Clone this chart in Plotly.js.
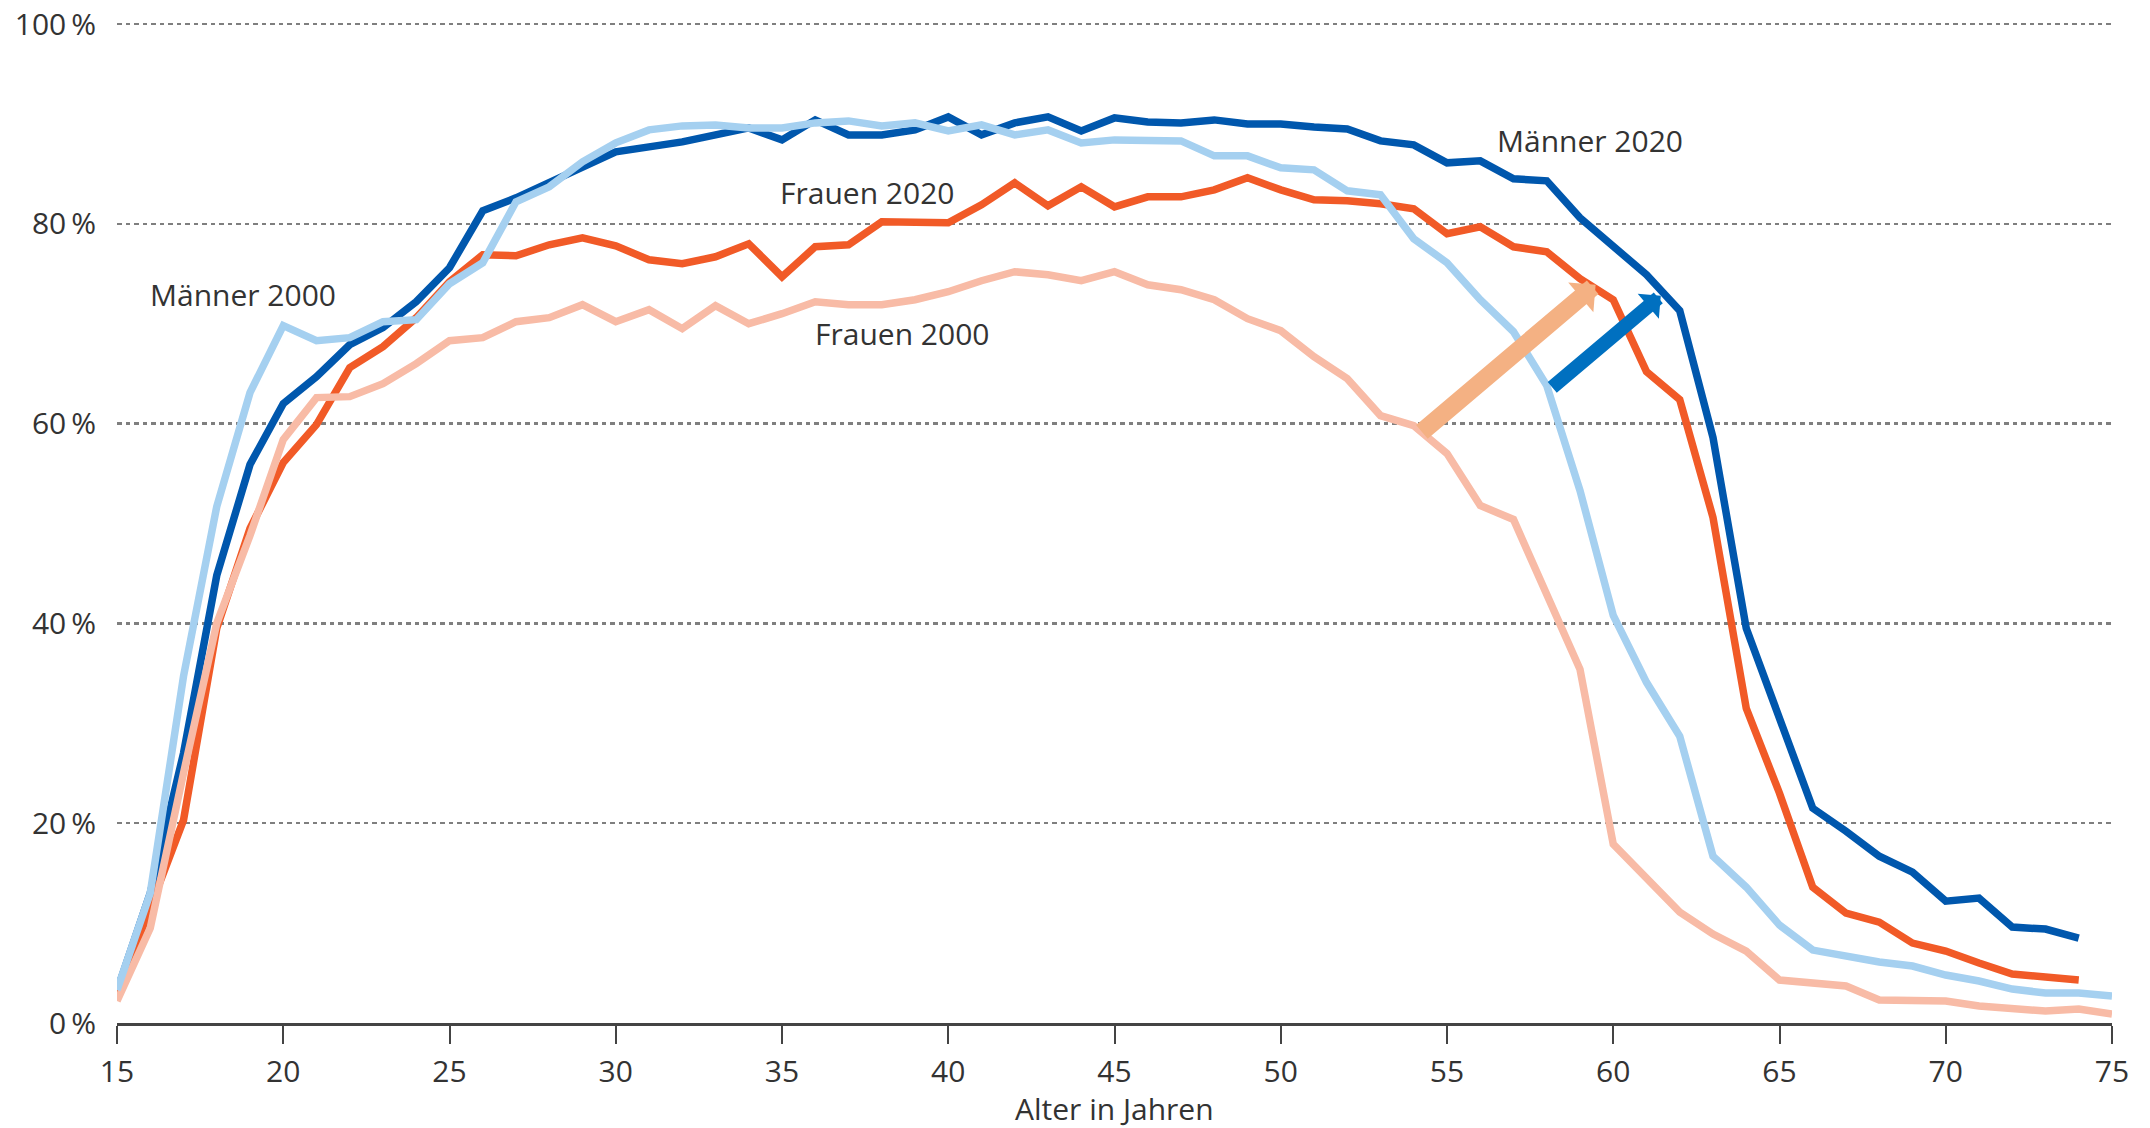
<!DOCTYPE html>
<html>
<head>
<meta charset="utf-8">
<script src="https://cdn.plot.ly/plotly-3.0.1.min.js"></script>
<style>html,body{margin:0;padding:0;background:#fff;}#chart{width:2150px;height:1128px;}</style>
</head>
<body>
<div id="chart"></div>
<script>
// Age (years)
const ages = [15,16,17,18,19,20,21,22,23,24,25,26,27,28,29,30,31,32,33,34,35,36,37,38,39,40,41,42,43,44,45,46,47,48,49,50,51,52,53,54,55,56,57,58,59,60,61,62,63,64,65,66,67,68,69,70,71,72,73,74,75];

// Erwerbsquote in % by age
const maenner2020 = [3.2,13.0,27.0,44.8,55.9,62.0,64.7,67.9,69.6,72.2,75.6,81.3,82.6,84.2,85.8,87.2,87.7,88.2,88.9,89.6,88.4,90.4,88.9,88.9,89.4,90.7,88.9,90.1,90.7,89.3,90.6,90.2,90.1,90.4,90.0,90.0,89.7,89.5,88.3,87.9,86.1,86.3,84.5,84.3,80.6,77.7,74.9,71.3,58.6,39.5,30.3,21.5,19.2,16.7,15.1,12.2,12.5,9.6,9.4,8.5,null];
const maenner2000 = [3.3,13.0,34.7,51.7,63.1,69.8,68.3,68.6,70.2,70.4,74.0,76.1,82.2,83.7,86.2,88.1,89.4,89.8,89.9,89.6,89.6,90.1,90.3,89.8,90.1,89.3,89.9,88.9,89.4,88.1,88.4,88.3,88.3,86.8,86.8,85.6,85.4,83.3,82.9,78.5,76.1,72.4,69.2,63.8,53.3,40.8,34.1,28.7,16.7,13.6,9.8,7.3,6.7,6.1,5.7,4.8,4.2,3.4,3.0,3.0,2.7];
const frauen2020 = [2.8,11.5,20.3,39.5,49.5,56.1,59.9,65.6,67.7,70.6,74.2,76.9,76.8,77.9,78.6,77.8,76.4,76.0,76.7,78.0,74.7,77.7,77.9,80.2,80.2,80.1,81.9,84.1,81.8,83.7,81.7,82.7,82.7,83.4,84.6,83.4,82.4,82.3,82.0,81.5,79.0,79.7,77.7,77.2,74.5,72.4,65.2,62.4,50.6,31.5,23.0,13.6,11.0,10.1,8.0,7.2,6.0,4.9,4.6,4.3,null];
const frauen2000 = [2.2,9.5,25.0,40.0,48.8,58.4,62.6,62.7,64.0,66.0,68.3,68.6,70.2,70.6,71.9,70.2,71.4,69.5,71.8,70.0,71.0,72.2,71.9,71.9,72.4,73.2,74.3,75.2,74.9,74.3,75.2,73.9,73.4,72.4,70.5,69.3,66.7,64.5,60.8,59.8,57.0,51.8,50.4,43.0,35.4,17.9,14.4,11.1,8.9,7.2,4.3,4.0,3.7,2.3,2.3,2.2,1.7,1.5,1.2,1.4,0.9];

// Axis ticks
const xTicks = [15,20,25,30,35,40,45,50,55,60,65,70,75];
const yTicks = [0,20,40,60,80,100];
const yTickText = ["0\u2009%","20\u2009%","40\u2009%","60\u2009%","80\u2009%","100\u2009%"];
const xTitle = "Alter in Jahren";

// Series labels: [text, age, value]
const seriesLabels = [
  ["Männer 2000", 18.8, 72.9],
  ["Frauen 2020", 37.55, 83.1],
  ["Frauen 2000", 38.6, 69.0],
  ["Männer 2020", 59.3, 88.3]
];
// Shift arrows: [tailAge, tailValue, headAge, headValue]
const arrowSalmon = [54.2, 59.05, 59.47, 73.9];
const arrowBlue = [58.12, 63.5, 61.43, 72.8];

const FONT = "Open Sans, sans-serif";
const TXT = "#333333";

function line(y, color, name) {
  return {x: ages, y: y, type: "scatter", mode: "lines", name: name,
          line: {color: color, width: 7.5, shape: "linear"},
          connectgaps: false, hoverinfo: "skip"};
}

const data = [
  line(maenner2020, "#0057ad", "Männer 2020"),
  line(frauen2020, "#f15a27", "Frauen 2020"),
  line(frauen2000, "#f8bba6", "Frauen 2000"),
  line(maenner2000, "#a5d0f0", "Männer 2000")
];

const annotations = [];
seriesLabels.forEach(l => annotations.push({
  x: l[1], y: l[2], xref: "x", yref: "y", text: l[0], showarrow: false,
  xanchor: "center", yanchor: "middle", font: {family: FONT, size: 30, color: TXT}
}));
function arrow(a, color, width, size) {
  return {
    x: a[2], y: a[3], ax: a[0], ay: a[1], xref: "x", yref: "y", axref: "x", ayref: "y",
    text: "", showarrow: true, arrowhead: 1, arrowsize: size, arrowwidth: width, arrowcolor: color,
    standoff: 0, startstandoff: 0
  };
}
annotations.push(arrow(arrowSalmon, "#f4b183", 18, 0.36));
annotations.push(arrow(arrowBlue, "#0070c0", 14, 0.39));
// x-axis title
annotations.push({
  x: 0.5, y: -0.0855, xref: "paper", yref: "paper", text: xTitle, showarrow: false,
  xanchor: "center", yanchor: "middle", borderpad: 0,
  font: {family: FONT, size: 30, color: TXT}
});

const layout = {
  width: 2150, height: 1128,
  margin: {l: 117, r: 38, t: 22, b: 105},
  paper_bgcolor: "#ffffff", plot_bgcolor: "#ffffff",
  showlegend: false,
  font: {family: FONT, size: 30, color: TXT},
  xaxis: {
    range: [15, 75], tickvals: xTicks, ticktext: xTicks.map(String),
    showgrid: false, zeroline: false,
    showline: true, linecolor: "#444444", linewidth: 2.5,
    ticks: "outside", ticklen: 18, tickwidth: 2, tickcolor: "#444444",
    tickfont: {family: FONT, size: 30, color: TXT},
    ticklabelstandoff: 2
  },
  yaxis: {
    range: [0, 100.2], tickvals: yTicks, ticktext: yTickText,
    showgrid: true, gridcolor: "#7f7f7f", gridwidth: 2.5, griddash: "4.5px,4px",
    zeroline: false, showline: false, ticks: "",
    tickfont: {family: FONT, size: 30, color: TXT},
    ticklabelstandoff: 20
  },
  annotations: annotations
};

Plotly.newPlot("chart", data, layout, {staticPlot: true, displayModeBar: false});
</script>
</body>
</html>
